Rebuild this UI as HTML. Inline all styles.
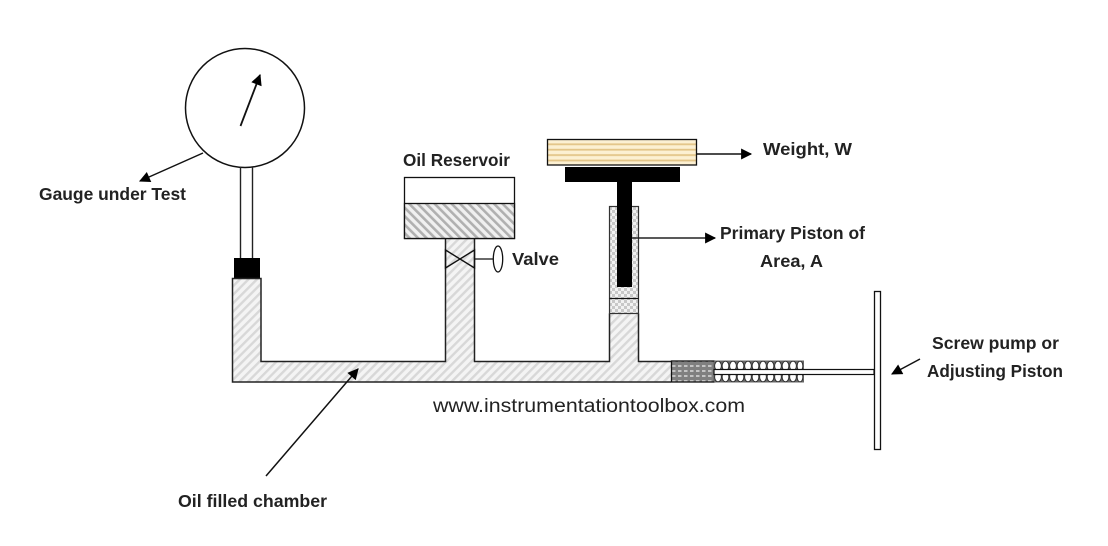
<!DOCTYPE html>
<html><head><meta charset="utf-8"><style>
html,body{margin:0;padding:0;background:#fff}
svg{display:block}
text{font-family:"Liberation Sans",sans-serif;font-weight:bold;font-size:17.5px;fill:#222}
</style></head><body>
<svg width="1108" height="546" viewBox="0 0 1108 546" xmlns="http://www.w3.org/2000/svg">
<defs>
<pattern id="h1" width="6" height="6" patternUnits="userSpaceOnUse" patternTransform="rotate(45)"><rect width="6" height="6" fill="#f4f4f4"/><rect width="2.4" height="6" fill="#d8d8d8"/></pattern>
<pattern id="h2" width="6" height="6" patternUnits="userSpaceOnUse" patternTransform="rotate(-45)"><rect width="6" height="6" fill="#f0f0f0"/><rect width="2.6" height="6" fill="#b0b0b0"/></pattern>
<pattern id="d1" width="6" height="6" patternUnits="userSpaceOnUse"><rect width="6" height="6" fill="#f2f2f2"/><rect width="3" height="3" fill="#c8c8c8"/><rect x="3" y="3" width="3" height="3" fill="#c8c8c8"/></pattern>
<pattern id="d2" width="6" height="5" patternUnits="userSpaceOnUse"><rect width="6" height="5" fill="#808080"/><rect width="3.5" height="2" fill="#c4c4c4"/></pattern>
<pattern id="w" width="10" height="5.4" patternUnits="userSpaceOnUse" y="140"><rect width="10" height="5.4" fill="#fcf0d2"/><rect y="3.400" width="10" height="1.800" fill="#e3c588"/></pattern>
<marker id="a" viewBox="0 0 10 10" refX="9" refY="5" markerWidth="13" markerHeight="11" markerUnits="userSpaceOnUse" orient="auto"><path d="M0 0L10 5L0 10Z" fill="#000"/></marker>
</defs>

<!-- gauge -->
<circle cx="245" cy="108" r="59.500" fill="#fff" stroke="#111" stroke-width="1.500"/>
<line x1="240.500" y1="126" x2="260" y2="75" stroke="#111" stroke-width="1.800" marker-end="url(#a)"/>
<line x1="240.500" y1="167" x2="240.500" y2="258" stroke="#222" stroke-width="1.400"/>
<line x1="252.500" y1="167" x2="252.500" y2="258" stroke="#222" stroke-width="1.400"/>
<rect x="234" y="258" width="26" height="20" fill="#000"/>
<line x1="203" y1="153" x2="140" y2="181" stroke="#111" stroke-width="1.500" marker-end="url(#a)"/>

<!-- oil chamber -->
<path d="M232.500 278.500H261V361H445.500V238.500H474.500V361H609.500V313.500H638.500V361H671V382H232.500Z" fill="url(#h1)"/>
<path d="M671 361.500H638.500V313.500M609.500 313.500V361.500H474.500V238.500M445.500 238.500V361.500H261V278.500H232.500V382H671" fill="none" stroke="#222" stroke-width="1.500"/>

<!-- reservoir -->
<rect x="404.500" y="177.500" width="110" height="61" fill="#fff" stroke="#111" stroke-width="1.300"/>
<rect x="404.500" y="203.500" width="110" height="35" fill="url(#h2)" stroke="#111" stroke-width="1.300"/>

<!-- valve -->
<path d="M445.500 250L474.500 268V250L445.500 268Z" fill="none" stroke="#111" stroke-width="1.400"/>
<line x1="474.500" y1="259" x2="493" y2="259" stroke="#111" stroke-width="1.300"/>
<ellipse cx="498" cy="259" rx="4.700" ry="13" fill="#fff" stroke="#111" stroke-width="1.300"/>

<!-- weight -->
<rect x="547.500" y="139.500" width="149" height="25.500" fill="url(#w)" stroke="#111" stroke-width="1.300"/>
<line x1="696.500" y1="154" x2="751" y2="154" stroke="#111" stroke-width="1.500" marker-end="url(#a)"/>

<!-- cylinder -->
<rect x="609.500" y="206.500" width="29" height="107" fill="url(#d1)" stroke="#333" stroke-width="1.200"/>
<line x1="609.500" y1="298.500" x2="638.500" y2="298.500" stroke="#111" stroke-width="1.200"/>
<rect x="565" y="167" width="115" height="15" fill="#000"/>
<rect x="617" y="182" width="15" height="105" fill="#000"/>
<line x1="632" y1="238" x2="715" y2="238" stroke="#222" stroke-width="1.500" marker-end="url(#a)"/>

<!-- screw pump -->
<rect x="671.500" y="361" width="43" height="21" fill="url(#d2)" stroke="#111" stroke-width="1.300"/>
<rect x="714" y="360.500" width="90" height="22" fill="#666"/>
<g fill="#fff" stroke="#222" stroke-width="0.800">
<ellipse cx="718" cy="366" rx="3.300" ry="4.800"/><ellipse cx="725.500" cy="366" rx="3.300" ry="4.800"/><ellipse cx="733" cy="366" rx="3.300" ry="4.800"/><ellipse cx="740.500" cy="366" rx="3.300" ry="4.800"/><ellipse cx="748" cy="366" rx="3.300" ry="4.800"/><ellipse cx="755.500" cy="366" rx="3.300" ry="4.800"/><ellipse cx="763" cy="366" rx="3.300" ry="4.800"/><ellipse cx="770.500" cy="366" rx="3.300" ry="4.800"/><ellipse cx="778" cy="366" rx="3.300" ry="4.800"/><ellipse cx="785.500" cy="366" rx="3.300" ry="4.800"/><ellipse cx="793" cy="366" rx="3.300" ry="4.800"/><ellipse cx="800" cy="366" rx="2.800" ry="4.800"/>
<ellipse cx="718" cy="377" rx="3.300" ry="4.800"/><ellipse cx="725.500" cy="377" rx="3.300" ry="4.800"/><ellipse cx="733" cy="377" rx="3.300" ry="4.800"/><ellipse cx="740.500" cy="377" rx="3.300" ry="4.800"/><ellipse cx="748" cy="377" rx="3.300" ry="4.800"/><ellipse cx="755.500" cy="377" rx="3.300" ry="4.800"/><ellipse cx="763" cy="377" rx="3.300" ry="4.800"/><ellipse cx="770.500" cy="377" rx="3.300" ry="4.800"/><ellipse cx="778" cy="377" rx="3.300" ry="4.800"/><ellipse cx="785.500" cy="377" rx="3.300" ry="4.800"/><ellipse cx="793" cy="377" rx="3.300" ry="4.800"/><ellipse cx="800" cy="377" rx="2.800" ry="4.800"/>
</g>
<rect x="714" y="369.500" width="160" height="5" fill="#fff" stroke="#111" stroke-width="1.200"/>
<rect x="874.500" y="291.500" width="6" height="158" fill="#fff" stroke="#111" stroke-width="1.300"/>
<line x1="920" y1="359" x2="892" y2="374" stroke="#111" stroke-width="1.500" marker-end="url(#a)"/>

<!-- oil chamber arrow -->
<line x1="266" y1="476" x2="358" y2="369" stroke="#111" stroke-width="1.500" marker-end="url(#a)"/>

<!-- labels -->
<text x="39" y="200" textLength="147" lengthAdjust="spacingAndGlyphs">Gauge under Test</text>
<text x="403" y="166" textLength="107" lengthAdjust="spacingAndGlyphs">Oil Reservoir</text>
<text x="512" y="265" textLength="47" lengthAdjust="spacingAndGlyphs">Valve</text>
<text x="763" y="155" textLength="89" lengthAdjust="spacingAndGlyphs">Weight, W</text>
<text x="720" y="239" textLength="145" lengthAdjust="spacingAndGlyphs">Primary Piston of</text>
<text x="760" y="267" textLength="63" lengthAdjust="spacingAndGlyphs">Area, A</text>
<text x="932" y="349" textLength="127" lengthAdjust="spacingAndGlyphs">Screw pump or</text>
<text x="927" y="377" textLength="136" lengthAdjust="spacingAndGlyphs">Adjusting Piston</text>
<text x="178" y="507" textLength="149" lengthAdjust="spacingAndGlyphs">Oil filled chamber</text>
<text x="433" y="412" textLength="312" lengthAdjust="spacingAndGlyphs" style="font-weight:normal;font-size:19px">www.instrumentationtoolbox.com</text>
</svg>
</body></html>
